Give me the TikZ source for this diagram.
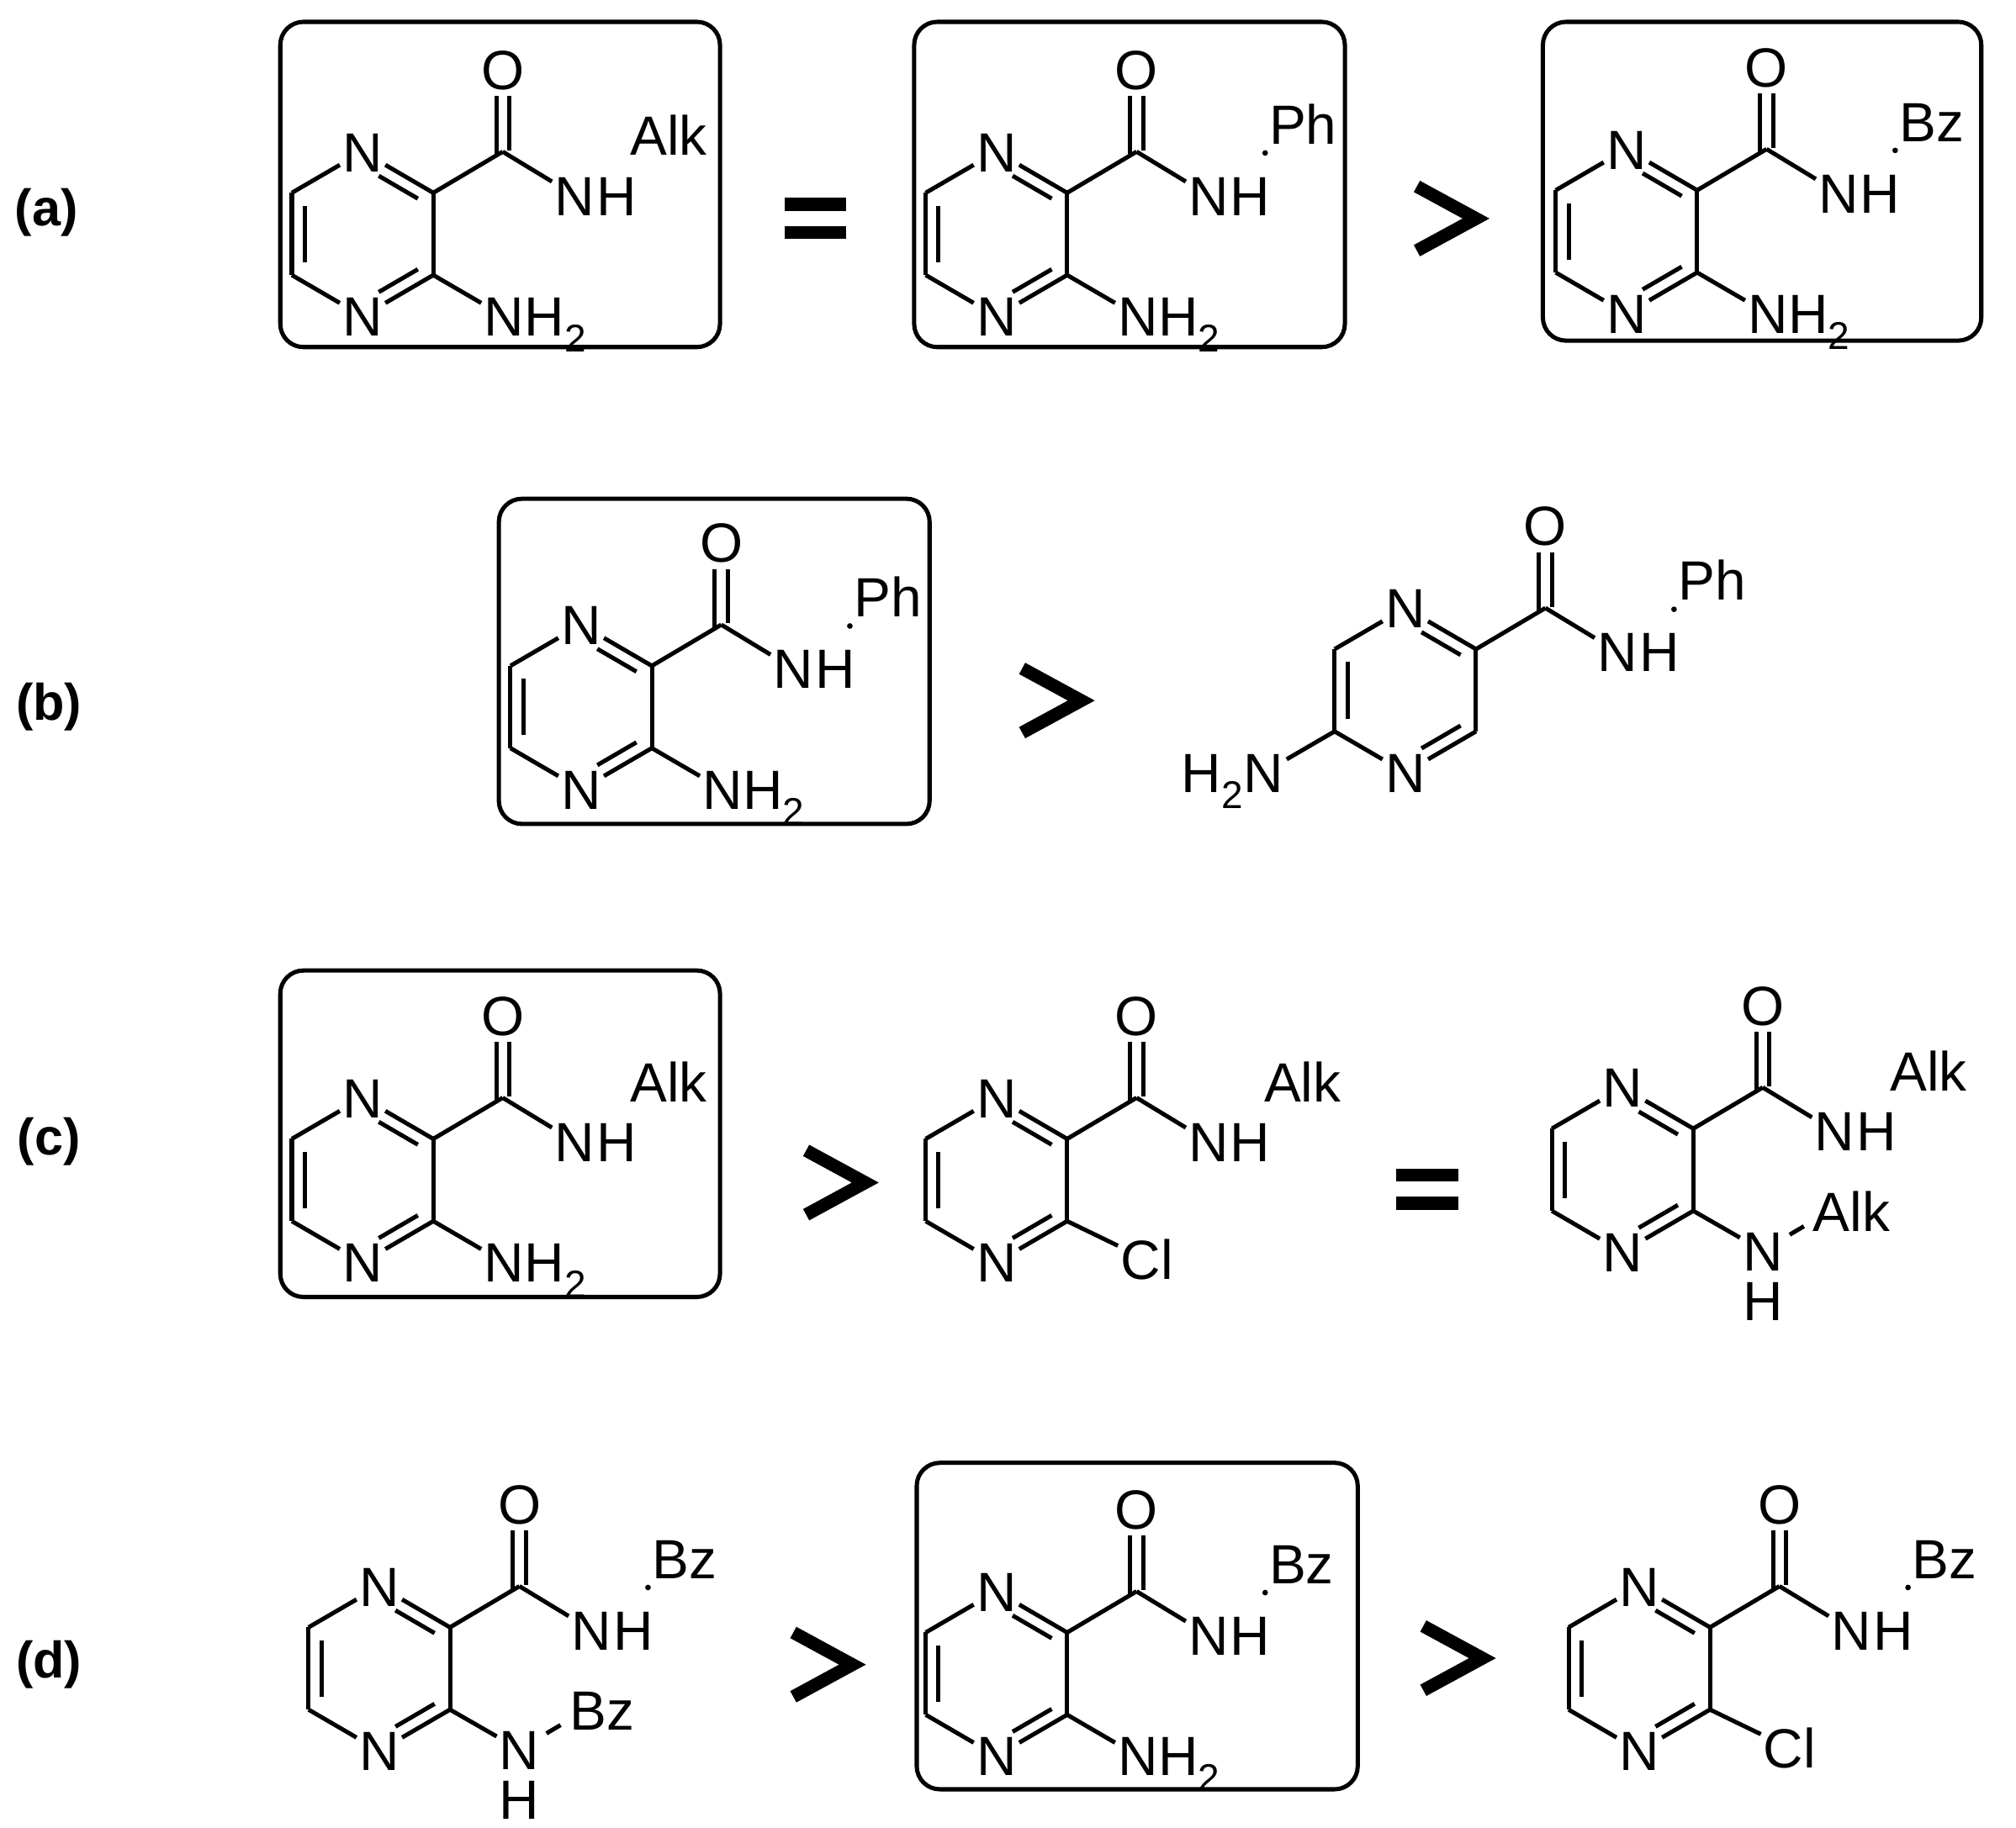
\documentclass[tikz,border=0pt]{standalone}
\usepackage{fontspec}
\setmainfont{Liberation Sans}
\usetikzlibrary{calc}
\tikzset{
 bond/.style={line width=3.3pt},
 atom/.style={font=\fontsize{43}{43}\selectfont, inner xsep=2pt, inner ysep=5pt, text height=31pt, text depth=0pt},
 grp/.style={font=\fontsize{43}{43}\selectfont, inner sep=0pt},
 frame/.style={line width=3.3pt, rounded corners=18pt},
 lbl/.style={font=\fontsize{40}{40}\selectfont\bfseries},
 sym/.style={line width=10pt, miter limit=10},
}
\newcommand\core[3]{%
 \coordinate (#1-c) at (#2,#3);
 \node[atom] (#1-N1) at ($(#1-c)+(0,-64)$) {N};
 \node[atom] (#1-N4) at ($(#1-c)+(0,64)$) {N};
 \coordinate (#1-C2) at ($(#1-c)+(55,-32)$);
 \coordinate (#1-C3) at ($(#1-c)+(55,32)$);
 \coordinate (#1-C5) at ($(#1-c)+(-55,32)$);
 \coordinate (#1-C6) at ($(#1-c)+(-55,-32)$);
 \draw[bond] (#1-N1) -- (#1-C2);
 \draw[bond] (#1-C2) -- (#1-C3);
 \draw[bond] (#1-C3) -- (#1-N4);
 \draw[bond] (#1-N4) -- (#1-C5);
 \draw[bond] (#1-C5) -- (#1-C6);
 \draw[bond] (#1-C6) -- (#1-N1);
 \coordinate (#1-i1) at ($(#1-c)+(12.6,-45.2)$);
 \coordinate (#1-i2) at ($(#1-c)+(43,-27.5)$);
 \coordinate (#1-i3) at ($(#1-c)+(43,27.5)$);
 \coordinate (#1-i4) at ($(#1-c)+(12.6,45.2)$);
 \coordinate (#1-i5) at ($(#1-c)+(-45,22)$);
 \coordinate (#1-i6) at ($(#1-c)+(-45,-22)$);
 \draw[bond] (#1-i1) -- (#1-i2);
 \draw[bond] (#1-i3) -- (#1-i4);
 \draw[bond] (#1-i5) -- (#1-i6);
 \coordinate (#1-CO) at ($(#1-c)+(109,-64)$);
 \node[atom] (#1-O) at ($(#1-c)+(109,-128)$) {O};
 \draw[bond] (#1-C2) -- (#1-CO);
 \coordinate (#1-o1) at ($(#1-CO)+(-5,2)$);
 \coordinate (#1-o2) at ($(#1-O.south)+(-5,0)$);
 \coordinate (#1-o3) at ($(#1-CO)+(5,-1)$);
 \coordinate (#1-o4) at ($(#1-O.south)+(5,0)$);
 \draw[bond] (#1-o1) -- (#1-o2);
 \draw[bond] (#1-o3) -- (#1-o4);
 \node[atom] (#1-NA) at ($(#1-c)+(165,-30)$) {N};
 \node[atom, anchor=west, inner xsep=0pt] (#1-HA) at ($(#1-NA.east)+(-1,0)$) {H};
 \draw[bond] (#1-CO) -- (#1-NA);
}
\newcommand\ralk[2]{\node[grp, anchor=base west] (#1-R) at ($(#1-c)+(208,-61)$) {#2};}
\newcommand\rdot[2]{\fill (#1-c) ++(209,-63) circle (2.2);
 \node[grp, anchor=base west] (#1-R) at ($(#1-c)+(212,-70)$) {#2};}
\newcommand\snhtwo[1]{%
 \node[atom] (#1-Ns) at ($(#1-C3)+(55,32)$) {N};
 \node[grp, anchor=base west] (#1-Hs) at ($(#1-Ns.base east)+(-2,0)$) {H\textsubscript{2}};
 \draw[bond] (#1-C3) -- (#1-Ns);}
\newcommand\scl[1]{%
 \node[atom] (#1-Cl) at ($(#1-C3)+(62,30)$) {Cl};
 \draw[bond] (#1-C3) -- (#1-Cl);}
\newcommand\snhr[2]{%
 \node[atom] (#1-Ns) at ($(#1-C3)+(54,31)$) {N};
 \node[atom, inner ysep=1pt] (#1-Hs) at ($(#1-Ns)+(0,39)$) {H};
 \coordinate (#1-s1) at ($(#1-Ns)+(21,-12.5)$);
 \coordinate (#1-s2) at ($(#1-Ns)+(32,-19)$);
 \draw[bond] (#1-C3) -- (#1-Ns);
 \draw[bond] (#1-s1) -- (#1-s2);
 \node[grp, anchor=base west] (#1-Rs) at ($(#1-Ns)+(39,-15)$) {#2};}
\newcommand\gt[2]{\draw[sym] (#1-23,#2-25) -- (#1+23,#2) -- (#1-23,#2+25);}
\newcommand\eq[2]{\fill (#1-24,#2-16) rectangle (#1+24,#2-6); \fill (#1-24,#2+6) rectangle (#1+24,#2+16);}
\begin{document}
\begin{tikzpicture}[x=1pt,y=-1pt]
\useasboundingbox (0,0) rectangle (1568,1422);
\node[lbl] (la) at (36,165) {(a)};
\node[lbl] (lb) at (38,550) {(b)};
\node[lbl] (lc) at (38,888) {(c)};
\node[lbl] (ld) at (38,1295) {(d)};
\draw[frame] (218,17) rectangle (560,270);
\draw[frame] (711,17) rectangle (1046,270);
\draw[frame] (1200,17) rectangle (1541,265);
\draw[frame] (388,388) rectangle (723,641);
\draw[frame] (218,755) rectangle (560,1009);
\draw[frame] (713,1138) rectangle (1056,1392);
\core{a1}{282}{182} \ralk{a1}{Alk} \snhtwo{a1}
\core{a2}{775}{182} \rdot{a2}{Ph} \snhtwo{a2}
\core{a3}{1265}{180} \rdot{a3}{Bz} \snhtwo{a3}
\eq{634}{170}
\gt{1125}{170}
\core{b1}{452}{550} \rdot{b1}{Ph} \snhtwo{b1}
\core{b2}{1093}{537} \rdot{b2}{Ph}
\node[atom] (b2-Ns) at ($(b2-C5)+(-55,32)$) {N};
\node[grp, anchor=base east] (b2-Hs) at ($(b2-Ns.base west)+(2,0)$) {H\textsubscript{2}};
\draw[bond] (b2-C5) -- (b2-Ns);
\gt{818}{545}
\core{c1}{282}{918} \ralk{c1}{Alk} \snhtwo{c1}
\core{c2}{775}{918} \ralk{c2}{Alk} \scl{c2}
\core{c3}{1262}{910} \ralk{c3}{Alk} \snhr{c3}{Alk}
\gt{650}{920}
\eq{1110}{925}
\core{d1}{295}{1298} \rdot{d1}{Bz} \snhr{d1}{Bz}
\core{d2}{775}{1302} \rdot{d2}{Bz} \snhtwo{d2}
\core{d3}{1275}{1298} \rdot{d3}{Bz} \scl{d3}
\gt{640}{1295}
\gt{1130}{1290}
\end{tikzpicture}
\end{document}
